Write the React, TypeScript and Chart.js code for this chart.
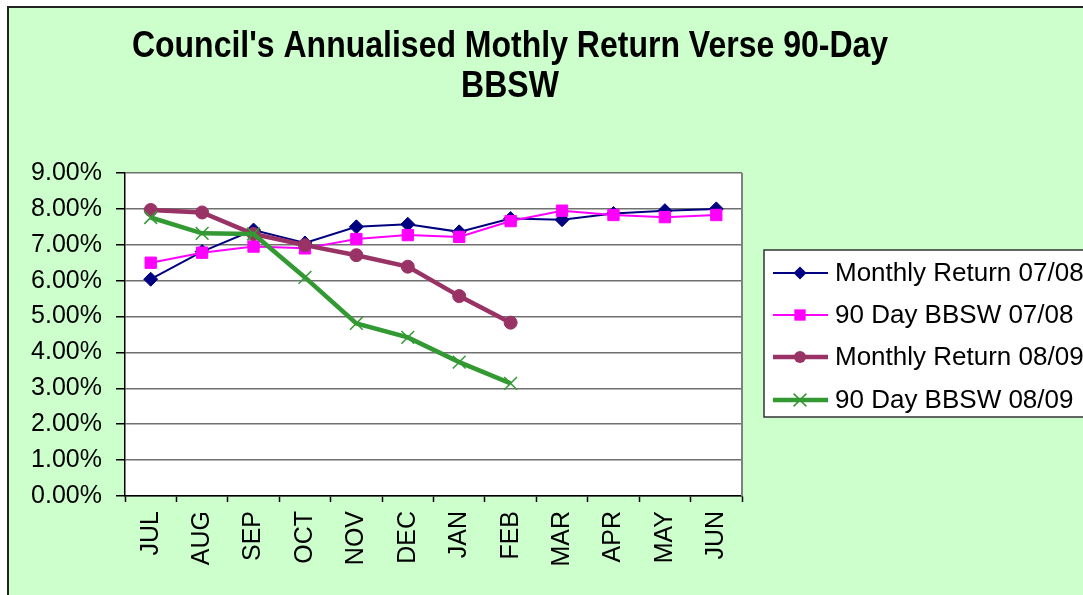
import React, { useEffect, useRef } from 'react';
import { Chart, registerables } from 'chart.js';

Chart.register(...registerables);

const months = ['JUL', 'AUG', 'SEP', 'OCT', 'NOV', 'DEC', 'JAN', 'FEB', 'MAR', 'APR', 'MAY', 'JUN'];
const monthlyReturn0708 = [6.04, 6.81, 7.41, 7.05, 7.5, 7.57, 7.36, 7.73, 7.7, 7.87, 7.95, 8.0];
const bbsw0708 = [6.5, 6.78, 6.95, 6.9, 7.16, 7.27, 7.22, 7.66, 7.95, 7.83, 7.77, 7.83];
const monthlyReturn0809 = [7.97, 7.9, 7.3, 6.99, 6.71, 6.39, 5.57, 4.83, null, null, null, null];
const bbsw0809 = [7.76, 7.32, 7.3, 6.09, 4.81, 4.42, 3.73, 3.14, null, null, null, null];
const seriesNames = ['Monthly Return 07/08', '90 Day BBSW 07/08', 'Monthly Return 08/09', '90 Day BBSW 08/09'];
const titleLines = ["Council's Annualised Mothly Return Verse 90-Day", 'BBSW'];
const yMin = 0;
const yMax = 9;
const yStep = 1;

const FONT = '"Liberation Sans", Arial, sans-serif';

function drawMarker(ctx: CanvasRenderingContext2D, style: string, x: number, y: number, r: number, color: string) {
  ctx.save();
  ctx.fillStyle = color;
  ctx.strokeStyle = color;
  ctx.beginPath();
  if (style === 'rectRot') {
    ctx.moveTo(x, y - r);
    ctx.lineTo(x + r, y);
    ctx.lineTo(x, y + r);
    ctx.lineTo(x - r, y);
    ctx.closePath();
    ctx.fill();
  } else if (style === 'rect') {
    const s = r * Math.SQRT1_2;
    ctx.rect(x - s, y - s, 2 * s, 2 * s);
    ctx.fill();
  } else if (style === 'circle') {
    ctx.arc(x, y, r, 0, Math.PI * 2);
    ctx.fill();
  } else if (style === 'crossRot') {
    const s = r * Math.SQRT1_2;
    ctx.lineWidth = 1.5;
    ctx.moveTo(x - s, y - s);
    ctx.lineTo(x + s, y + s);
    ctx.moveTo(x + s, y - s);
    ctx.lineTo(x - s, y + s);
    ctx.stroke();
  }
  ctx.restore();
}

const decorPlugin = {
  id: 'decor',
  beforeDraw(chart: any) {
    const { ctx, chartArea } = chart;
    ctx.save();
    ctx.fillStyle = '#ffffff';
    ctx.fillRect(chartArea.left, chartArea.top, chartArea.right - chartArea.left, chartArea.bottom - chartArea.top);
    ctx.restore();
  },
  beforeDatasetsDraw(chart: any) {
    const { ctx, chartArea } = chart;
    ctx.save();
    ctx.strokeStyle = '#808080';
    ctx.lineWidth = 2;
    ctx.beginPath();
    ctx.moveTo(chartArea.right, chartArea.top);
    ctx.lineTo(chartArea.right, chartArea.bottom);
    ctx.stroke();
    ctx.restore();
  },
  afterDraw(chart: any) {
    const { ctx } = chart;
    // Title
    ctx.save();
    ctx.fillStyle = '#000';
    ctx.font = `bold 32px ${FONT}`;
    ctx.textAlign = 'center';
    ctx.textBaseline = 'alphabetic';
    const baselines = [57, 97];
    titleLines.forEach((t, i) => {
      ctx.save();
      ctx.translate(510, baselines[i]);
      ctx.scale(1, 1.15);
      ctx.fillText(t, 0, 0);
      ctx.restore();
    });
    ctx.restore();

    // Legend
    ctx.save();
    ctx.fillStyle = '#ffffff';
    ctx.fillRect(764, 250, 340, 167);
    ctx.strokeStyle = '#333';
    ctx.lineWidth = 1.5;
    ctx.strokeRect(764, 250, 340, 167);
    const rows = [273, 315, 357, 400];
    chart.data.datasets.forEach((ds: any, i: number) => {
      const y = rows[i];
      ctx.strokeStyle = ds.borderColor;
      ctx.lineWidth = ds.borderWidth;
      ctx.beginPath();
      ctx.moveTo(773, y);
      ctx.lineTo(828, y);
      ctx.stroke();
      drawMarker(ctx, ds.pointStyle, 800, y, ds.legendRadius, ds.borderColor);
      ctx.fillStyle = '#000';
      ctx.font = `26px ${FONT}`;
      ctx.textAlign = 'left';
      ctx.textBaseline = 'middle';
      ctx.fillText(ds.label, 835, y + 1);
    });
    ctx.restore();
  },
};

export default function App() {
  const ref = useRef<HTMLCanvasElement>(null);
  useEffect(() => {
    if (!ref.current) return;
    const chart = new Chart(ref.current, {
      type: 'line',
      data: {
        labels: months,
        datasets: [
          {
            label: seriesNames[0],
            data: monthlyReturn0708,
            borderColor: '#000080',
            backgroundColor: '#000080',
            borderWidth: 2,
            pointStyle: 'rectRot',
            pointRadius: 7,
            pointBorderWidth: 1,
            pointBackgroundColor: '#000080',
            legendRadius: 6.5,
            order: 4,
          } as any,
          {
            label: seriesNames[1],
            data: bbsw0708,
            borderColor: '#FF00FF',
            backgroundColor: '#FF00FF',
            borderWidth: 2,
            pointStyle: 'rect',
            pointRadius: 8,
            pointBorderWidth: 1,
            pointBackgroundColor: '#FF00FF',
            legendRadius: 8,
            order: 3,
          } as any,
          {
            label: seriesNames[2],
            data: monthlyReturn0809,
            borderColor: '#993366',
            backgroundColor: '#993366',
            borderWidth: 4.5,
            pointStyle: 'circle',
            pointRadius: 6.5,
            pointBorderWidth: 1,
            pointBackgroundColor: '#993366',
            legendRadius: 6,
            order: 2,
          } as any,
          {
            label: seriesNames[3],
            data: bbsw0809,
            borderColor: '#339933',
            backgroundColor: '#339933',
            borderWidth: 4.5,
            pointStyle: 'crossRot',
            pointRadius: 9,
            pointBorderWidth: 1.5,
            legendRadius: 9,
            order: 1,
          } as any,
        ],
      },
      options: {
        responsive: false,
        animation: false,
        devicePixelRatio: 1,
        layout: { padding: { left: 0, top: 173, right: 341, bottom: 0 } },
        plugins: {
          legend: { display: false },
          title: { display: false },
          tooltip: { enabled: false },
        },
        elements: { line: { tension: 0 } },
        scales: {
          x: {
            type: 'category',
            offset: true,
            afterFit(scale: any) {
              scale.height = 99;
            },
            grid: {
              offset: true,
              drawOnChartArea: false,
              drawTicks: true,
              tickLength: 6,
              tickColor: '#000',
              tickWidth: 1.5,
            },
            border: { color: '#000', width: 1.5 },
            ticks: {
              color: '#000',
              font: { family: FONT, size: 25 },
              maxRotation: 90,
              minRotation: 90,
              padding: 9,
              autoSkip: false,
            },
          },
          y: {
            min: yMin,
            max: yMax,
            afterFit(scale: any) {
              scale.width = 125;
            },
            grid: {
              color: '#707070',
              lineWidth: 1.5,
              tickLength: 9,
              tickColor: '#000',
              tickWidth: 1.5,
            },
            border: { color: '#000', width: 1.5 },
            ticks: {
              stepSize: yStep,
              color: '#000',
              font: { family: FONT, size: 25 },
              padding: 14,
              callback: (v: any) => Number(v).toFixed(2) + '%',
            },
          },
        },
      },
      plugins: [decorPlugin],
    } as any);
    return () => chart.destroy();
  }, []);

  return (
    <div style={{ position: 'fixed', left: 0, top: 0, width: 1083, height: 595, background: '#ffffff', overflow: 'hidden' }}>
      <div
        style={{
          position: 'absolute',
          left: 7,
          top: 6,
          width: 1100,
          height: 620,
          background: '#CCFFCC',
          borderLeft: '2px solid #222',
          borderTop: '2px solid #222',
        }}
      />
      <canvas ref={ref} width={1083} height={595} style={{ position: 'absolute', left: 0, top: 0, width: 1083, height: 595 }} />
    </div>
  );
}
